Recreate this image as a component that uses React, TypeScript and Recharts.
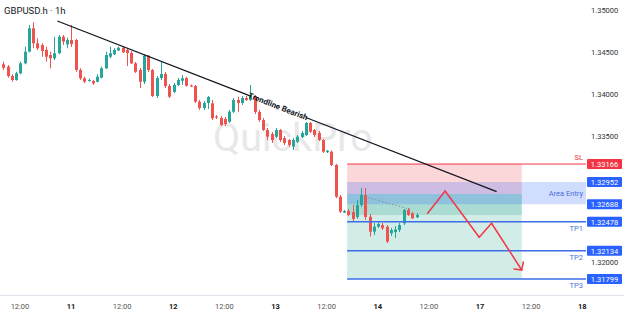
import { ComposedChart, Bar, XAxis, YAxis, ReferenceArea, ReferenceLine } from 'recharts';

// hourly candles, GBPUSD.h, first bar = day 10 08:00 (hour index counted from day 10 00:00, weekend skipped)
const FIRST_HOUR = 8;

const opens = [
  1.34354, 1.34325, 1.34214, 1.34167, 1.34246, 1.34365, 1.34504, 1.34782, 1.34604, 1.34583,
  1.34524, 1.34464, 1.34425, 1.34485, 1.34682, 1.34592, 1.34643, 1.34643, 1.34286, 1.34187,
  1.34155, 1.34155, 1.34146, 1.34194, 1.34306, 1.34444, 1.34473, 1.34518, 1.34551, 1.34524,
  1.34488, 1.34365, 1.34286, 1.34146, 1.34456, 1.34286, 1.33976, 1.3419, 1.34238, 1.34095,
  1.34024, 1.34107, 1.34158, 1.3419, 1.34101, 1.34095, 1.33908, 1.33833, 1.33893, 1.33889,
  1.33732, 1.33714, 1.33702, 1.3367, 1.33789, 1.33929, 1.33893, 1.33952, 1.33929, 1.33976,
  1.33786, 1.3369, 1.33571, 1.33524, 1.33492, 1.33571, 1.33476, 1.33452, 1.33373, 1.33432,
  1.33488, 1.33512, 1.33655, 1.33571, 1.33536, 1.33452, 1.33306, 1.33313, 1.33155, 1.32777,
  1.32589, 1.32607, 1.32595, 1.32536, 1.32679, 1.32798, 1.32539, 1.32361, 1.3242, 1.3244,
  1.3242, 1.32342, 1.32357, 1.32381, 1.32461, 1.32619, 1.3258, 1.32532,
];
const highs = [
  1.34385, 1.34345, 1.34235, 1.34265, 1.34385, 1.34563, 1.34821, 1.34854, 1.34663, 1.34604,
  1.34563, 1.34504, 1.34682, 1.34702, 1.34702, 1.3467, 1.34821, 1.34655, 1.34306, 1.34206,
  1.34182, 1.34167, 1.34235, 1.34325, 1.34504, 1.34563, 1.34548, 1.34565, 1.34565, 1.34536,
  1.34512, 1.34381, 1.3431, 1.34476, 1.34464, 1.34298, 1.34214, 1.34385, 1.34262, 1.34119,
  1.34131, 1.3419, 1.34226, 1.34206, 1.34113, 1.34107, 1.33929, 1.33917, 1.33976, 1.33929,
  1.3375, 1.33738, 1.33726, 1.3381, 1.33952, 1.33968, 1.33976, 1.33976, 1.34107, 1.33988,
  1.3381, 1.33714, 1.33595, 1.33548, 1.33595, 1.33583, 1.335, 1.33464, 1.33476, 1.33512,
  1.3356, 1.33667, 1.33667, 1.33583, 1.3356, 1.33464, 1.33333, 1.33327, 1.33167, 1.32798,
  1.32619, 1.32631, 1.32679, 1.32738, 1.32881, 1.32881, 1.32571, 1.32464, 1.32476, 1.32464,
  1.3244, 1.32405, 1.32429, 1.32464, 1.32631, 1.32643, 1.32595, 1.32583,
];
const lows = [
  1.34286, 1.34194, 1.34146, 1.34158, 1.34235, 1.34354, 1.34496, 1.34544, 1.34524, 1.34444,
  1.34385, 1.34306, 1.34405, 1.34473, 1.34583, 1.34544, 1.3456, 1.34265, 1.34167, 1.34127,
  1.34146, 1.34107, 1.34139, 1.34187, 1.34298, 1.34425, 1.34464, 1.34512, 1.34488, 1.34333,
  1.34357, 1.3425, 1.34071, 1.34119, 1.34262, 1.33964, 1.33952, 1.34167, 1.34071, 1.33952,
  1.34012, 1.34095, 1.34107, 1.34087, 1.34083, 1.33893, 1.3381, 1.3381, 1.33821, 1.3369,
  1.33702, 1.33619, 1.33619, 1.33655, 1.33774, 1.33789, 1.33869, 1.33917, 1.33917, 1.33762,
  1.33667, 1.3356, 1.33452, 1.33417, 1.33476, 1.33429, 1.33393, 1.33369, 1.33333, 1.33417,
  1.33476, 1.335, 1.33536, 1.33488, 1.3344, 1.33298, 1.33298, 1.33143, 1.32762, 1.32583,
  1.32583, 1.32548, 1.32476, 1.32512, 1.32655, 1.325, 1.32301, 1.32321, 1.32405, 1.32381,
  1.32226, 1.3231, 1.32286, 1.32357, 1.3244, 1.32548, 1.32512, 1.32524,
];
const closes = [
  1.34313, 1.34214, 1.34167, 1.34246, 1.34365, 1.34504, 1.34782, 1.34604, 1.34544, 1.34512,
  1.34444, 1.34425, 1.34485, 1.34682, 1.34623, 1.34643, 1.34595, 1.34286, 1.34187, 1.34146,
  1.34167, 1.34127, 1.34206, 1.34306, 1.34464, 1.34485, 1.34524, 1.34551, 1.34496, 1.34488,
  1.34365, 1.34265, 1.34146, 1.34456, 1.34286, 1.33976, 1.3419, 1.34238, 1.34095, 1.33968,
  1.34107, 1.34167, 1.34187, 1.34099, 1.34095, 1.33908, 1.33833, 1.33893, 1.33964, 1.33711,
  1.3372, 1.33631, 1.33643, 1.33789, 1.33929, 1.33893, 1.33952, 1.33929, 1.33988, 1.33786,
  1.3369, 1.33571, 1.33492, 1.33452, 1.33571, 1.33452, 1.33417, 1.33393, 1.33452, 1.33492,
  1.33536, 1.33655, 1.33551, 1.33512, 1.33452, 1.33313, 1.33325, 1.33155, 1.32777, 1.32599,
  1.32607, 1.3256, 1.32512, 1.32679, 1.32798, 1.32536, 1.32361, 1.3242, 1.32452, 1.32401,
  1.32242, 1.32381, 1.32387, 1.3244, 1.32619, 1.3256, 1.3252, 1.3256,
];

// time axis
const tickHours = [12, 24, 36, 48, 60, 72, 84, 96, 108, 120, 132, 144];
const tickLabels = ['12:00', '11', '12:00', '12', '12:00', '13', '12:00', '14', '12:00', '17', '12:00', '18'];
// 1.33000 / 1.32500 sit under the level tags, so they are left out
const priceTicks = [1.32, 1.335, 1.34, 1.345, 1.35];

// trade setup levels
const SL = 1.33166;
const ENTRY_TOP = 1.32952;
const ENTRY_BOTTOM = 1.32688;
const ENTRY = 1.3281;
const ENTRY_BAND = 1.3256;
const TP1 = 1.32478;
const TP2 = 1.32134;
const TP3 = 1.31799;
const ZONE_START = 88.8;
const ZONE_END = 129.8;

const tagPrices = [SL, ENTRY_TOP, ENTRY_BOTTOM, TP1, TP2, TP3];
const tagColors = ['#f23645', '#2962ff', '#2962ff', '#2962ff', '#2962ff', '#2962ff'];
const targetLevels = [TP1, TP2, TP3];
const targetNames = ['TP1', 'TP2', 'TP3'];

// trendline (broken where its caption sits)
const trendT = [20.76, 66.0, 79.1, 123.9];
const trendP = [1.34869, 1.33978, 1.3372, 1.32837];

// projected path + arrow head
const zigT = [107.7, 111.8, 119.8, 122.7, 129.78];
const zigP = [1.3258, 1.32845, 1.32294, 1.32461, 1.31905];
const arrowT = [127.97, 130.15];
const arrowP = [1.31917, 1.32];

const dotT = [93.0, 103.6];
const dotP = [1.32777, 1.32627];

const T_MIN = 7.31;
const T_MAX = 144.87;
const Y_MIN = 1.316071;
const Y_MAX = 1.35119;

const GREEN = '#26a69a';
const RED = '#ef5350';
const BLUE_LINE = '#3d6ee8';

const candles = opens.map((o, i) => ({
  t: FIRST_HOUR + i,
  open: o,
  high: highs[i],
  low: lows[i],
  close: closes[i],
  range: [lows[i], highs[i]],
}));

function Candle(props: any) {
  const { x, y, width, height, payload } = props;
  if (!payload || height == null) return null;
  const { open, close, high, low } = payload;
  const color = close >= open ? GREEN : RED;
  const top = Math.min(y, y + height);
  const bottom = Math.max(y, y + height);
  const k = (bottom - top) / (high - low || 1e-9);
  const yo = top + (high - open) * k;
  const yc = top + (high - close) * k;
  const cx = Math.round(x + width / 2) + 0.5;
  return (
    <g>
      <line x1={cx} x2={cx} y1={top} y2={bottom} stroke={color} strokeWidth={1} />
      <rect x={cx - 1.5} y={Math.min(yo, yc)} width={3} height={Math.max(Math.abs(yc - yo), 1)} fill={color} />
    </g>
  );
}

function TimeTick(props: any) {
  const { x, y, payload } = props;
  const label = tickLabels[tickHours.indexOf(payload.value)];
  const isDay = !label.includes(':');
  return (
    <text x={x} y={y + 11} textAnchor="middle" dominantBaseline="central" fontSize={7.5}
      fontWeight={isDay ? 700 : 400} fill={isDay ? '#131722' : '#555'}>
      {label}
    </text>
  );
}

function PriceTag(props: any) {
  const { viewBox, price, color } = props;
  if (!viewBox) return null;
  const x = viewBox.x + viewBox.width + 1;
  return (
    <g>
      <rect x={x} y={viewBox.y - 5} width={35} height={10} rx={1} fill={color} />
      <text x={x + 17.5} y={viewBox.y + 0.5} textAnchor="middle" dominantBaseline="central" fontSize={7.5} fill="#fff">
        {price.toFixed(5)}
      </text>
    </g>
  );
}

function LevelText(props: any) {
  const { viewBox, text, color, above } = props;
  if (!viewBox) return null;
  return (
    <text x={viewBox.x + viewBox.width - 3} y={viewBox.y + (above ? -7 : 7)} textAnchor="end"
      dominantBaseline="central" fontSize={7.5} fill={color}>
      {text}
    </text>
  );
}

function AreaText(props: any) {
  const { viewBox } = props;
  if (!viewBox) return null;
  return (
    <text x={viewBox.x + viewBox.width - 3} y={viewBox.y + viewBox.height / 2} textAnchor="end"
      dominantBaseline="central" fontSize={7.5} fill="#4a6fd8">
      Area Entry
    </text>
  );
}

function TrendText(props: any) {
  const { viewBox } = props;
  if (!viewBox) return null;
  const cx = viewBox.x + viewBox.width / 2;
  const cy = viewBox.y + viewBox.height / 2;
  const angle = (Math.atan2(viewBox.height, viewBox.width) * 180) / Math.PI;
  return (
    <text x={cx} y={cy} transform={`rotate(${angle} ${cx} ${cy})`} textAnchor="middle"
      dominantBaseline="central" fontSize={8} fontWeight={700} fill="#131722">
      Trendline Bearish
    </text>
  );
}

export default function App() {
  return (
    <div style={{ position: 'fixed', left: 0, top: 0, width: 624, height: 316, background: '#fff', fontFamily: 'Roboto, sans-serif' }}>
      <svg width={624} height={316} style={{ position: 'absolute', left: 0, top: 0 }}>
        <text x={213} y={151} fontSize={39.5} fill="#e8e8e8" fontFamily="Roboto, sans-serif">QuickPro</text>
        <text x={4} y={13.5} fontSize={9.5} fill="#131722" fontFamily="Roboto, sans-serif">GBPUSD.h · 1h</text>
        <line x1={0} x2={624} y1={295.5} y2={295.5} stroke="#e0e3eb" />
      </svg>
      <div style={{ position: 'absolute', left: 0, top: 0 }}>
        <ComposedChart width={624} height={316} data={candles} margin={{ top: 0, right: 0, bottom: 0, left: 0 }}
          style={{ fontFamily: 'Roboto, sans-serif' }}>
          <XAxis type="number" dataKey="t" domain={[T_MIN, T_MAX]} ticks={tickHours} interval={0}
            tick={<TimeTick />} tickLine={false} axisLine={false} tickSize={0} tickMargin={0} height={21} allowDataOverflow />
          <YAxis orientation="right" type="number" domain={[Y_MIN, Y_MAX]} ticks={priceTicks} interval={0}
            tickFormatter={(v: number) => v.toFixed(5)} width={38} tickLine={false} axisLine={false}
            tickSize={0} tickMargin={5} tick={{ fontSize: 7.5, fill: '#333' }} allowDataOverflow />

          <Bar dataKey="range" barSize={3} isAnimationActive={false} shape={(p: any) => <Candle {...p} />} />

          <ReferenceArea x1={ZONE_START} x2={ZONE_END} y1={ENTRY} y2={SL} fill="#f23645" fillOpacity={0.2} stroke="none" />
          <ReferenceArea x1={ZONE_START} x2={ZONE_END} y1={TP3} y2={ENTRY} fill="#089981" fillOpacity={0.18} stroke="none" />
          <ReferenceArea x1={ZONE_START} x2={ZONE_END} y1={ENTRY_BAND} y2={ENTRY} fill="#089981" fillOpacity={0.2} stroke="none" />
          <ReferenceArea x1={ZONE_START} x2={T_MAX} y1={ENTRY_BOTTOM} y2={ENTRY_TOP} fill="#2962ff" fillOpacity={0.22} stroke="none"
            label={<AreaText />} />

          <ReferenceLine segment={[{ x: ZONE_START, y: SL }, { x: T_MAX, y: SL }]} stroke="#f23645" strokeWidth={1}
            label={<LevelText text="SL" color="#f23645" above />} />
          {targetLevels.map((lv, i) => (
            <ReferenceLine key={targetNames[i]} segment={[{ x: ZONE_START, y: lv }, { x: T_MAX, y: lv }]}
              stroke={BLUE_LINE} strokeWidth={1.5} label={<LevelText text={targetNames[i]} color="#4a6fd8" />} />
          ))}

          <ReferenceLine segment={[{ x: trendT[0], y: trendP[0] }, { x: trendT[1], y: trendP[1] }]} stroke="#131722" strokeWidth={1.3} />
          <ReferenceLine segment={[{ x: trendT[1], y: trendP[1] }, { x: trendT[2], y: trendP[2] }]} stroke="none"
            label={<TrendText />} />
          <ReferenceLine segment={[{ x: trendT[2], y: trendP[2] }, { x: trendT[3], y: trendP[3] }]} stroke="#131722" strokeWidth={1.3} />

          <ReferenceLine segment={[{ x: dotT[0], y: dotP[0] }, { x: dotT[1], y: dotP[1] }]} stroke="#8a8d96"
            strokeDasharray="1.5 2" strokeWidth={1} />

          {zigT.slice(1).map((t, i) => (
            <ReferenceLine key={'z' + i} segment={[{ x: zigT[i], y: zigP[i] }, { x: t, y: zigP[i + 1] }]}
              stroke="#f23645" strokeWidth={1.5} strokeLinecap="round" />
          ))}
          {arrowT.map((t, i) => (
            <ReferenceLine key={'a' + i} segment={[{ x: zigT[4], y: zigP[4] }, { x: t, y: arrowP[i] }]}
              stroke="#f23645" strokeWidth={1.5} strokeLinecap="round" />
          ))}

          {tagPrices.map((p, i) => (
            <ReferenceLine key={'tag' + i} y={p} stroke="none"
              label={<PriceTag price={p} color={tagColors[i]} />} />
          ))}
        </ComposedChart>
      </div>
    </div>
  );
}
